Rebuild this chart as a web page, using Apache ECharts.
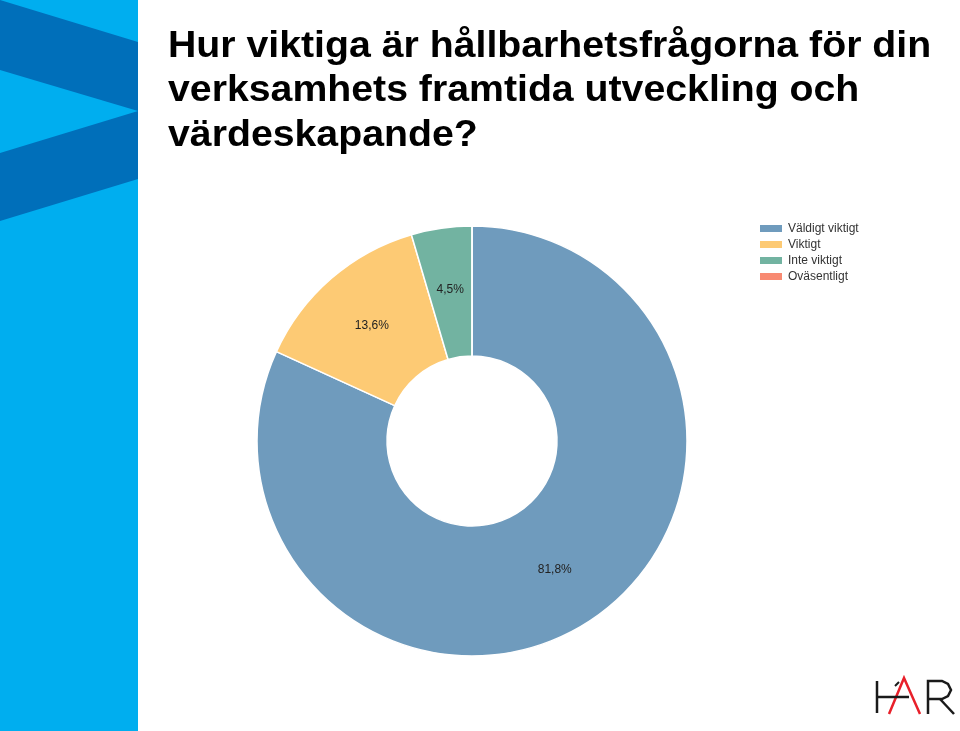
<!DOCTYPE html>
<html><head><meta charset="utf-8">
<script src="https://cdn.jsdelivr.net/npm/echarts@6/dist/echarts.min.js"></script>
<style>html,body{margin:0;padding:0;background:#fff}#c{width:960px;height:731px}</style>
</head><body><div id="c"></div>
<script>
const titleLines = ['Hur viktiga är hållbarhetsfrågorna för din', 'verksamhets framtida utveckling och', 'värdeskapande?'];
const categories = ['Väldigt viktigt', 'Viktigt', 'Inte viktigt', 'Oväsentligt'];
const counts = [18, 3, 1, 0];
const colors = ['#6f9bbd', '#fdca74', '#72b3a1', '#f88a72'];

const chart = echarts.init(document.getElementById('c'), null, {renderer: 'canvas'});
const total = counts.reduce((a, b) => a + b, 0);
const titleGraphics = titleLines.map((t, i) => ({
  type: 'text', x: 168, y: 47 + i * 44.5, scaleX: 1.09, z: 10,
  style: {text: t, font: 'bold 36px "Liberation Sans", Arial, sans-serif', fill: '#000', verticalAlign: 'middle', align: 'left'}
}));
chart.setOption({
  animation: false,
  color: colors,
  legend: {
    orient: 'vertical', left: 753, top: 217,
    itemWidth: 24, itemHeight: 9, itemGap: 3,
    icon: 'rect',
    textStyle: {fontFamily: 'Liberation Sans, Arial, sans-serif', fontSize: 12, color: '#333', lineHeight: 13},
    data: categories
  },
  graphic: [
    {type: 'rect', shape: {x: 0, y: 0, width: 138, height: 731}, style: {fill: '#00aeef'}, z: 0},
    {type: 'polygon', shape: {points: [[0, 0], [138, 42], [138, 111], [0, 70]]}, style: {fill: '#006fba'}, z: 1},
    {type: 'polygon', shape: {points: [[0, 153], [138, 111], [138, 179], [0, 221]]}, style: {fill: '#006fba'}, z: 1},
    // logo
    {type: 'line', shape: {x1: 877, y1: 681, x2: 877, y2: 713}, style: {stroke: '#1a1a1a', lineWidth: 2.5}, z: 5},
    {type: 'line', shape: {x1: 877, y1: 697, x2: 909, y2: 697}, style: {stroke: '#1a1a1a', lineWidth: 2.5}, z: 6},
    {type: 'polyline', shape: {points: [[889, 714], [904, 678], [920, 714]]}, style: {stroke: '#e8202a', lineWidth: 2.5, fill: null}, z: 5},
    {type: 'line', shape: {x1: 895, y1: 686, x2: 899, y2: 682}, style: {stroke: '#1a1a1a', lineWidth: 2}, z: 6},
    {type: 'polyline', shape: {points: [[928, 714], [928, 681], [942, 681], [948, 684], [951, 690], [948, 696], [942, 699], [928, 699]]}, style: {stroke: '#1a1a1a', lineWidth: 2.5, fill: null}, z: 5},
    {type: 'line', shape: {x1: 940, y1: 699, x2: 954, y2: 714}, style: {stroke: '#1a1a1a', lineWidth: 2.5}, z: 5}
  ].concat(titleGraphics),
  series: [{
    type: 'pie',
    center: [472, 441],
    radius: [85, 215],
    startAngle: 90,
    clockwise: true,
    avoidLabelOverlap: false,
    itemStyle: {borderColor: '#fff', borderWidth: 1.5},
    label: {
      show: true, position: 'inside',
      fontFamily: 'Liberation Sans, Arial, sans-serif', fontSize: 12, color: '#222',
      formatter: p => p.value === 0 ? '' : (p.value / total * 100).toFixed(1).replace('.', ',') + '%'
    },
    labelLine: {show: false},
    emphasis: {disabled: true},
    data: categories.map((n, i) => ({name: n, value: counts[i]}))
  }]
});
</script></body></html>
